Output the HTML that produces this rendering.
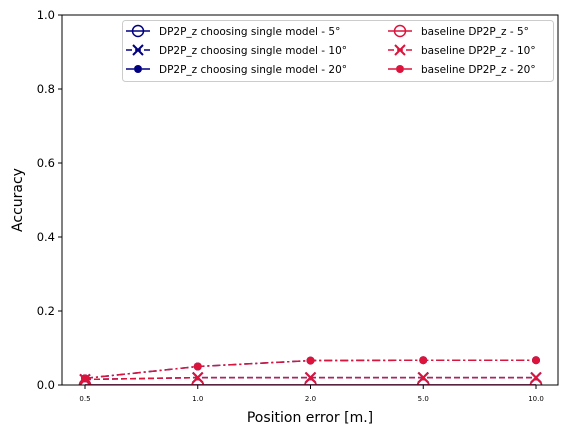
<!DOCTYPE html>
<html><head><meta charset="utf-8"><style>
body{margin:0;background:#fff;}
svg{display:block;font-family:"DejaVu Sans","Liberation Sans",sans-serif;}
</style></head><body>
<svg id="chart" width="568" height="434" xmlns="http://www.w3.org/2000/svg">
<defs><clipPath id="plotclip"><rect x="62" y="15" width="496" height="370"/></clipPath></defs>
<rect x="0" y="0" width="568" height="434" fill="#fff"/>
<g id="series" clip-path="url(#plotclip)"></g>
<rect x="62" y="15" width="496" height="370" fill="none" stroke="#000" stroke-width="1"/>
<g id="axes"></g>
<text x="310" y="422" font-size="14" text-anchor="middle">Position error [m.]</text>
<text x="22" y="200" font-size="14" text-anchor="middle" transform="rotate(-90 22 200)">Accuracy</text>
<g id="legend"></g>
</svg>
<script>
const categories = ["0.5","1.0","2.0","5.0","10.0"];
const yTicks = [0.0,0.2,0.4,0.6,0.8,1.0];
const ours5 = [0.0,0.0,0.0,0.0,0.0];
const ours10 = [0.015,0.02,0.02,0.02,0.02];
const ours20 = [0.018,0.05,0.066,0.067,0.067];
const base5 = [0.0,0.0,0.0,0.0,0.0];
const base10 = [0.015,0.02,0.02,0.02,0.02];
const base20 = [0.018,0.05,0.066,0.067,0.067];
const labels = ["DP2P_z choosing single model - 5°","DP2P_z choosing single model - 10°","DP2P_z choosing single model - 20°","baseline DP2P_z - 5°","baseline DP2P_z - 10°","baseline DP2P_z - 20°"];

const NS="http://www.w3.org/2000/svg";
const X0=62,X1=558,Y0=385,Y1=15;
function xs(i){return 85+i*(536-85)/(categories.length-1);}
function ys(v){return Y0-(v-0)*(Y0-Y1)/1;}
function mk(tag,attrs,parent){const e=document.createElementNS(NS,tag);for(const k in attrs)e.setAttribute(k,attrs[k]);parent.appendChild(e);return e;}

const axes=document.getElementById('axes');
yTicks.forEach(t=>{
  const y=ys(t);
  const l=mk('line',{x1:X0-4,x2:X0,y1:y,y2:y,stroke:'#000'},axes);
  
  
  const tx=mk('text',{x:X0-7,y:y+4,'font-size':'11.5','text-anchor':'end'},axes);
  tx.textContent=t.toFixed(1);
  
  
});
categories.forEach((c,i)=>{
  const x=xs(i);
  const l=mk('line',{x1:x,x2:x,y1:Y0,y2:Y0+4,stroke:'#000'},axes);
  
  
  const tx=mk('text',{x:x,y:401,'font-size':'7','text-anchor':'middle'},axes);
  tx.textContent=c;
  
  
});

const NAVY='#000080',RED='#dc143c';
const specs=[
 {d:ours5,c:NAVY,dash:'',m:'o',n:'ours-5deg-line'},
 {d:ours10,c:NAVY,dash:'6,3',m:'x',n:'ours-10deg-line'},
 {d:ours20,c:NAVY,dash:'8,3,2,3',m:'dot',n:'ours-20deg-line'},
 {d:base5,c:RED,dash:'',m:'o',n:'baseline-5deg-line'},
 {d:base10,c:RED,dash:'6,3',m:'x',n:'baseline-10deg-line'},
 {d:base20,c:RED,dash:'8,3,2,3',m:'dot',n:'baseline-20deg-line'}
];
function marker(type,x,y,c,g,name){
  let e;
  if(type==='o'){e=mk('circle',{cx:x,cy:y,r:5.5,fill:'none',stroke:c,'stroke-width':1.5},g);}
  else if(type==='x'){e=mk('path',{d:`M${x-5} ${y-5}L${x+5} ${y+5}M${x-5} ${y+5}L${x+5} ${y-5}`,stroke:c,'stroke-width':2},g);}
  else{e=mk('circle',{cx:x,cy:y,r:4,fill:c},g);}
  
  
}
const sg=document.getElementById('series');
specs.forEach(s=>{
  const pts=s.d.map((v,i)=>xs(i)+','+ys(v)).join(' ');
  const pl=mk('polyline',{points:pts,fill:'none',stroke:s.c,'stroke-width':1.5,'stroke-dasharray':s.dash},sg);
  
  
  s.d.forEach((v,i)=>marker(s.m,xs(i),ys(v),s.c,sg,s.n.replace('-line','-point')));
});

const lg=document.getElementById('legend');
const box=mk('rect',{x:122.5,y:20.5,width:431,height:61,rx:3,fill:'#fff','fill-opacity':0.8,stroke:'#ccc'},lg);


specs.forEach((s,i)=>{
  const col=i<3?0:1, row=i%3;
  const lx=col===0?126:388, ly=31+row*19;
  const g=mk('g',{},lg);
  
  
  mk('line',{x1:lx,x2:lx+24,y1:ly,y2:ly,stroke:s.c,'stroke-width':1.5,'stroke-dasharray':s.dash},g);
  marker(s.m,lx+12,ly,s.c,g,'legend-marker');
  const t=mk('text',{x:lx+33,y:ly+4,'font-size':'10.5'},g);
  t.textContent=labels[i];
});
</script>
</body></html>
